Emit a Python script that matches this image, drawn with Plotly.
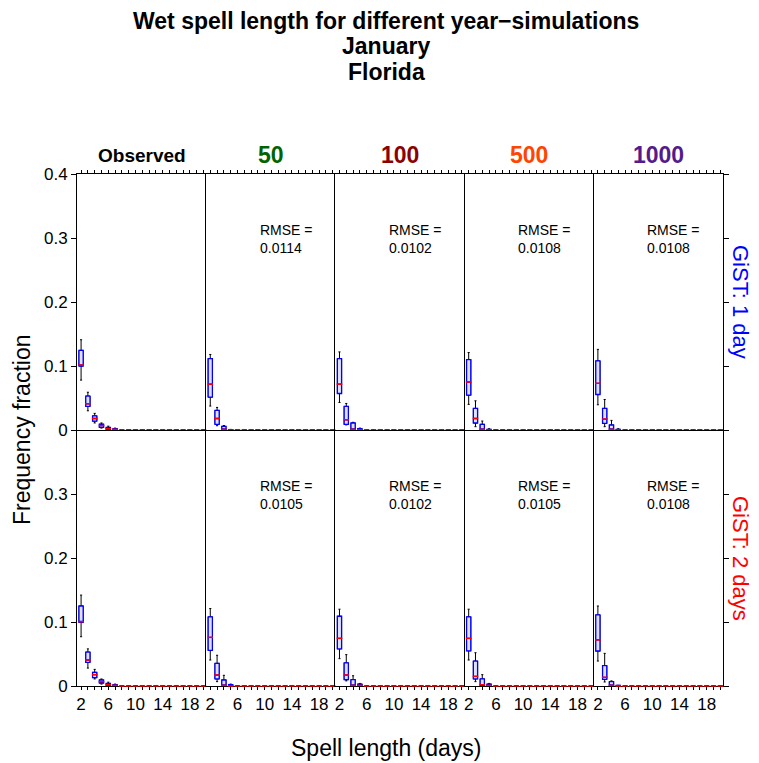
import plotly.graph_objects as go
from plotly.subplots import make_subplots

# ---------------- data ----------------
spell_lengths = [2, 3, 4, 5, 6, 7, 8, 9, 10, 11, 12, 13, 14, 15, 16, 17, 18, 19, 20]
x_tick_values = [2, 6, 10, 14, 18]
x_tick_labels = ["2", "6", "10", "14", "18"]

title_lines = ["Wet spell length for different year\u2212simulations", "January", "Florida"]
column_names = ["Observed", "50", "100", "500", "1000"]
column_colors = ["black", "#006400", "#8B0000", "#FF4500", "#551A8B"]
row_names = ["GiST: 1 day", "GiST: 2 days"]
row_colors = ["blue", "red"]

rmse_1day = ["", "0.0114", "0.0102", "0.0108", "0.0108"]
rmse_2day = ["", "0.0105", "0.0102", "0.0105", "0.0108"]

# box statistics per panel: lower whisker, q1, median, q3, upper whisker
obs_1day = dict(
    lo=[0.078, 0.030, 0.011, 0.003, 0.001, 0, 0, 0, 0, 0, 0, 0, 0, 0, 0, 0, 0, 0, 0],
    q1=[0.100, 0.037, 0.014, 0.004, 0.001, 0.0003, 0, 0, 0, 0, 0, 0, 0, 0, 0, 0, 0, 0, 0],
    med=[0.1015, 0.041, 0.018, 0.007, 0.002, 0.001, 0, 0, 0, 0, 0, 0, 0, 0, 0, 0, 0, 0, 0],
    q3=[0.1245, 0.053, 0.022, 0.009, 0.004, 0.002, 0, 0, 0, 0, 0, 0, 0, 0, 0, 0, 0, 0, 0],
    hi=[0.141, 0.059, 0.026, 0.011, 0.006, 0.003, 0, 0, 0, 0, 0, 0, 0, 0, 0, 0, 0, 0, 0],
)
sim50_1day = dict(
    lo=[0.0374, 0.0067, 0, 0, 0, 0, 0, 0, 0, 0, 0, 0, 0, 0, 0, 0, 0, 0, 0],
    q1=[0.0514, 0.0089, 0, 0, 0, 0, 0, 0, 0, 0, 0, 0, 0, 0, 0, 0, 0, 0, 0],
    med=[0.0716, 0.018, 0.001, 0, 0, 0, 0, 0, 0, 0, 0, 0, 0, 0, 0, 0, 0, 0, 0],
    q3=[0.1115, 0.0306, 0.0057, 0.0005, 0, 0, 0, 0, 0, 0, 0, 0, 0, 0, 0, 0, 0, 0, 0],
    hi=[0.118, 0.0353, 0.007, 0.001, 0, 0, 0, 0, 0, 0, 0, 0, 0, 0, 0, 0, 0, 0, 0],
)
sim100_1day = dict(
    lo=[0.043, 0.008, 0, 0, 0, 0, 0, 0, 0, 0, 0, 0, 0, 0, 0, 0, 0, 0, 0],
    q1=[0.057, 0.0089, 0, 0, 0, 0, 0, 0, 0, 0, 0, 0, 0, 0, 0, 0, 0, 0, 0],
    med=[0.0716, 0.016, 0.001, 0.0005, 0, 0, 0, 0, 0, 0, 0, 0, 0, 0, 0, 0, 0, 0, 0],
    q3=[0.1115, 0.0368, 0.0109, 0.002, 0, 0, 0, 0, 0, 0, 0, 0, 0, 0, 0, 0, 0, 0, 0],
    hi=[0.122, 0.0415, 0.012, 0.003, 0, 0, 0, 0, 0, 0, 0, 0, 0, 0, 0, 0, 0, 0, 0],
)
sim500_1day = dict(
    lo=[0.040, 0.0052, 0, 0, 0, 0, 0, 0, 0, 0, 0, 0, 0, 0, 0, 0, 0, 0, 0],
    q1=[0.0545, 0.0109, 0, 0, 0, 0, 0, 0, 0, 0, 0, 0, 0, 0, 0, 0, 0, 0, 0],
    med=[0.075, 0.018, 0.001, 0, 0, 0, 0, 0, 0, 0, 0, 0, 0, 0, 0, 0, 0, 0, 0],
    q3=[0.110, 0.0337, 0.0089, 0.001, 0, 0, 0, 0, 0, 0, 0, 0, 0, 0, 0, 0, 0, 0, 0],
    hi=[0.121, 0.0456, 0.014, 0.002, 0, 0, 0, 0, 0, 0, 0, 0, 0, 0, 0, 0, 0, 0, 0],
)
sim1000_1day = dict(
    lo=[0.0394, 0.0052, 0, 0, 0, 0, 0, 0, 0, 0, 0, 0, 0, 0, 0, 0, 0, 0, 0],
    q1=[0.0555, 0.0104, 0, 0, 0, 0, 0, 0, 0, 0, 0, 0, 0, 0, 0, 0, 0, 0, 0],
    med=[0.073, 0.0171, 0.001, 0, 0, 0, 0, 0, 0, 0, 0, 0, 0, 0, 0, 0, 0, 0, 0],
    q3=[0.108, 0.0337, 0.0078, 0.001, 0, 0, 0, 0, 0, 0, 0, 0, 0, 0, 0, 0, 0, 0, 0],
    hi=[0.126, 0.0477, 0.015, 0.002, 0, 0, 0, 0, 0, 0, 0, 0, 0, 0, 0, 0, 0, 0, 0],
)
obs_2day = dict(
    lo=[0.077, 0.028, 0.011, 0.003, 0.001, 0.0005, 0, 0, 0, 0, 0, 0, 0, 0, 0, 0, 0, 0, 0],
    q1=[0.0995, 0.037, 0.013, 0.0047, 0.001, 0.0005, 0, 0, 0, 0, 0, 0, 0, 0, 0, 0, 0, 0, 0],
    med=[0.1005, 0.0406, 0.0177, 0.0068, 0.002, 0.001, 0, 0, 0, 0, 0, 0, 0, 0, 0, 0, 0, 0, 0],
    q3=[0.125, 0.053, 0.0214, 0.0094, 0.004, 0.002, 0, 0, 0, 0, 0, 0, 0, 0, 0, 0, 0, 0, 0],
    hi=[0.142, 0.058, 0.026, 0.011, 0.006, 0.003, 0, 0, 0, 0, 0, 0, 0, 0, 0, 0, 0, 0, 0],
)
sim50_2day = dict(
    lo=[0.0406, 0.0068, 0, 0, 0, 0, 0, 0, 0, 0, 0, 0, 0, 0, 0, 0, 0, 0, 0],
    q1=[0.0557, 0.011, 0, 0, 0, 0, 0, 0, 0, 0, 0, 0, 0, 0, 0, 0, 0, 0, 0],
    med=[0.076, 0.0172, 0.001, 0, 0, 0, 0, 0, 0, 0, 0, 0, 0, 0, 0, 0, 0, 0, 0],
    q3=[0.108, 0.0354, 0.0094, 0.002, 0, 0, 0, 0, 0, 0, 0, 0, 0, 0, 0, 0, 0, 0, 0],
    hi=[0.121, 0.048, 0.0167, 0.003, 0, 0, 0, 0, 0, 0, 0, 0, 0, 0, 0, 0, 0, 0, 0],
)
sim100_2day = dict(
    lo=[0.0427, 0.008, 0, 0, 0, 0, 0, 0, 0, 0, 0, 0, 0, 0, 0, 0, 0, 0, 0],
    q1=[0.058, 0.0099, 0, 0, 0, 0, 0, 0, 0, 0, 0, 0, 0, 0, 0, 0, 0, 0, 0],
    med=[0.0745, 0.0172, 0.001, 0.001, 0, 0, 0, 0, 0, 0, 0, 0, 0, 0, 0, 0, 0, 0, 0],
    q3=[0.109, 0.036, 0.0099, 0.003, 0, 0, 0, 0, 0, 0, 0, 0, 0, 0, 0, 0, 0, 0, 0],
    hi=[0.120, 0.049, 0.016, 0.004, 0, 0, 0, 0, 0, 0, 0, 0, 0, 0, 0, 0, 0, 0, 0],
)
sim500_2day = dict(
    lo=[0.0406, 0.0068, 0, 0, 0, 0, 0, 0, 0, 0, 0, 0, 0, 0, 0, 0, 0, 0, 0],
    q1=[0.055, 0.011, 0, 0, 0, 0, 0, 0, 0, 0, 0, 0, 0, 0, 0, 0, 0, 0, 0],
    med=[0.0745, 0.015, 0.002, 0.001, 0, 0, 0, 0, 0, 0, 0, 0, 0, 0, 0, 0, 0, 0, 0],
    q3=[0.108, 0.039, 0.011, 0.003, 0, 0, 0, 0, 0, 0, 0, 0, 0, 0, 0, 0, 0, 0, 0],
    hi=[0.120, 0.052, 0.0177, 0.004, 0, 0, 0, 0, 0, 0, 0, 0, 0, 0, 0, 0, 0, 0, 0],
)
sim1000_2day = dict(
    lo=[0.039, 0.0063, 0, 0, 0, 0, 0, 0, 0, 0, 0, 0, 0, 0, 0, 0, 0, 0, 0],
    q1=[0.0547, 0.0105, 0, 0, 0, 0, 0, 0, 0, 0, 0, 0, 0, 0, 0, 0, 0, 0, 0],
    med=[0.072, 0.0136, 0.001, 0, 0, 0, 0, 0, 0, 0, 0, 0, 0, 0, 0, 0, 0, 0, 0],
    q3=[0.111, 0.0317, 0.0068, 0.001, 0, 0, 0, 0, 0, 0, 0, 0, 0, 0, 0, 0, 0, 0, 0],
    hi=[0.125, 0.051, 0.008, 0.001, 0, 0, 0, 0, 0, 0, 0, 0, 0, 0, 0, 0, 0, 0, 0],
)

panels = [
    [obs_1day, sim50_1day, sim100_1day, sim500_1day, sim1000_1day],
    [obs_2day, sim50_2day, sim100_2day, sim500_2day, sim1000_2day],
]
rmse_rows = [rmse_1day, rmse_2day]

# ---------------- figure ----------------
FONT = "Liberation Sans, Arial, sans-serif"
W, H = 759, 763
L, R, T, B = 77, 36, 174, 77
PW, PH = W - L - R, H - T - B


def px_to_paper_x(px):
    return (px - L) / PW


def px_to_paper_y(py):
    return (H - B - py) / PH


fig = make_subplots(rows=2, cols=5, horizontal_spacing=0, vertical_spacing=0)

BOX_W = 0.62
for r in range(2):
    for c in range(5):
        st = panels[r][c]
        # whiskers (black)
        fig.add_trace(go.Box(
            x=spell_lengths, q1=st["q1"], median=st["med"], q3=st["q3"],
            lowerfence=st["lo"], upperfence=st["hi"], width=BOX_W,
            whiskerwidth=0.5, line=dict(color="black", width=1),
            fillcolor="rgba(0,0,0,0)", boxpoints=False, hoverinfo="skip",
            showlegend=False), row=r + 1, col=c + 1)
        # box (blue)
        fig.add_trace(go.Box(
            x=spell_lengths, q1=st["q1"], median=st["med"], q3=st["q3"],
            lowerfence=st["q1"], upperfence=st["q3"], width=BOX_W,
            whiskerwidth=0, line=dict(color="blue", width=1.3),
            fillcolor="rgba(225,225,255,1)", boxpoints=False, hoverinfo="skip",
            showlegend=False), row=r + 1, col=c + 1)
        # median (red)
        fig.add_trace(go.Scatter(
            x=spell_lengths, y=st["med"], mode="markers",
            marker=dict(symbol="line-ew", size=4, line=dict(color="red", width=1.5)),
            cliponaxis=False, hoverinfo="skip", showlegend=False),
            row=r + 1, col=c + 1)
        if rmse_rows[r][c]:
            idx = r * 5 + c + 1
            fig.add_annotation(
                x=9, y=0.298, xref=f"x{idx if idx > 1 else ''}",
                yref=f"y{idx if idx > 1 else ''}",
                text=f"RMSE =<br>{rmse_rows[r][c]}", showarrow=False,
                xanchor="left", yanchor="middle", align="left",
                font=dict(family=FONT, size=14, color="black"))

# axes (each panel border drawn once)
for r in range(2):
    for c in range(5):
        xa = dict(range=[1.4, 20.4], showline=True, linecolor="black", linewidth=1,
                  showgrid=False, zeroline=False,
                  tickvals=spell_lengths, ticks="outside", ticklen=3,
                  tickcolor="black", tickfont=dict(family=FONT, size=17, color="black"))
        if r == 0:
            xa.update(side="top", mirror=True, showticklabels=False)
        else:
            xa.update(side="bottom", mirror=False, showticklabels=True, layer="below traces",
                      ticktext=[x_tick_labels[x_tick_values.index(v)] if v in x_tick_values else ""
                                for v in spell_lengths])
        fig.update_xaxes(xa, row=r + 1, col=c + 1)

        ya = dict(range=[0, 0.4], showline=True, linecolor="black", linewidth=1,
                  showgrid=False, zeroline=False,
                  tickvals=[0, 0.1, 0.2, 0.3, 0.4] if r == 0 else [0, 0.1, 0.2, 0.3],
                  tickfont=dict(family=FONT, size=17, color="black"),
                  tickcolor="black", ticklen=5)
        if c == 0:
            ya.update(side="left", mirror=False, ticks="outside", showticklabels=True)
        elif c == 4:
            ya.update(side="right", mirror=True, ticks="outside", showticklabels=False)
        else:
            ya.update(side="left", mirror=False, ticks="", showticklabels=False)
        fig.update_yaxes(ya, row=r + 1, col=c + 1)

# title lines
for txt, ypx in zip(title_lines, [21, 46, 72]):
    fig.add_annotation(x=px_to_paper_x(386), y=px_to_paper_y(ypx), xref="paper", yref="paper",
                       text=f"<b>{txt}</b>", showarrow=False, xanchor="center", yanchor="middle",
                       font=dict(family=FONT, size=23, color="black"))

# column headers
for c in range(5):
    fig.add_annotation(
        x=(c + 0.5) / 5, y=px_to_paper_y(155), xref="paper", yref="paper",
        text=f"<b>{column_names[c]}</b>", showarrow=False,
        xanchor="center", yanchor="middle",
        font=dict(family=FONT, size=19 if c == 0 else 23, color=column_colors[c]))

# row labels
for r in range(2):
    fig.add_annotation(
        x=px_to_paper_x(741), y=0.75 if r == 0 else 0.25, xref="paper", yref="paper",
        text=row_names[r], textangle=90, showarrow=False,
        xanchor="center", yanchor="middle",
        font=dict(family=FONT, size=22, color=row_colors[r]))

# axis titles
fig.add_annotation(x=px_to_paper_x(22), y=0.5, xref="paper", yref="paper",
                   text="Frequency fraction", textangle=-90, showarrow=False,
                   xanchor="center", yanchor="middle",
                   font=dict(family=FONT, size=23, color="black"))
fig.add_annotation(x=px_to_paper_x(386), y=px_to_paper_y(748), xref="paper", yref="paper",
                   text="Spell length (days)", showarrow=False,
                   xanchor="center", yanchor="middle",
                   font=dict(family=FONT, size=23, color="black"))

fig.update_layout(
    width=W, height=H,
    margin=dict(l=L, r=R, t=T, b=B),
    paper_bgcolor="white", plot_bgcolor="white",
    boxmode="overlay",
    font=dict(family=FONT, color="black"),
)

fig.write_html("out.html", config={"displayModeBar": False},
               post_script="document.body.style.margin='0';")
